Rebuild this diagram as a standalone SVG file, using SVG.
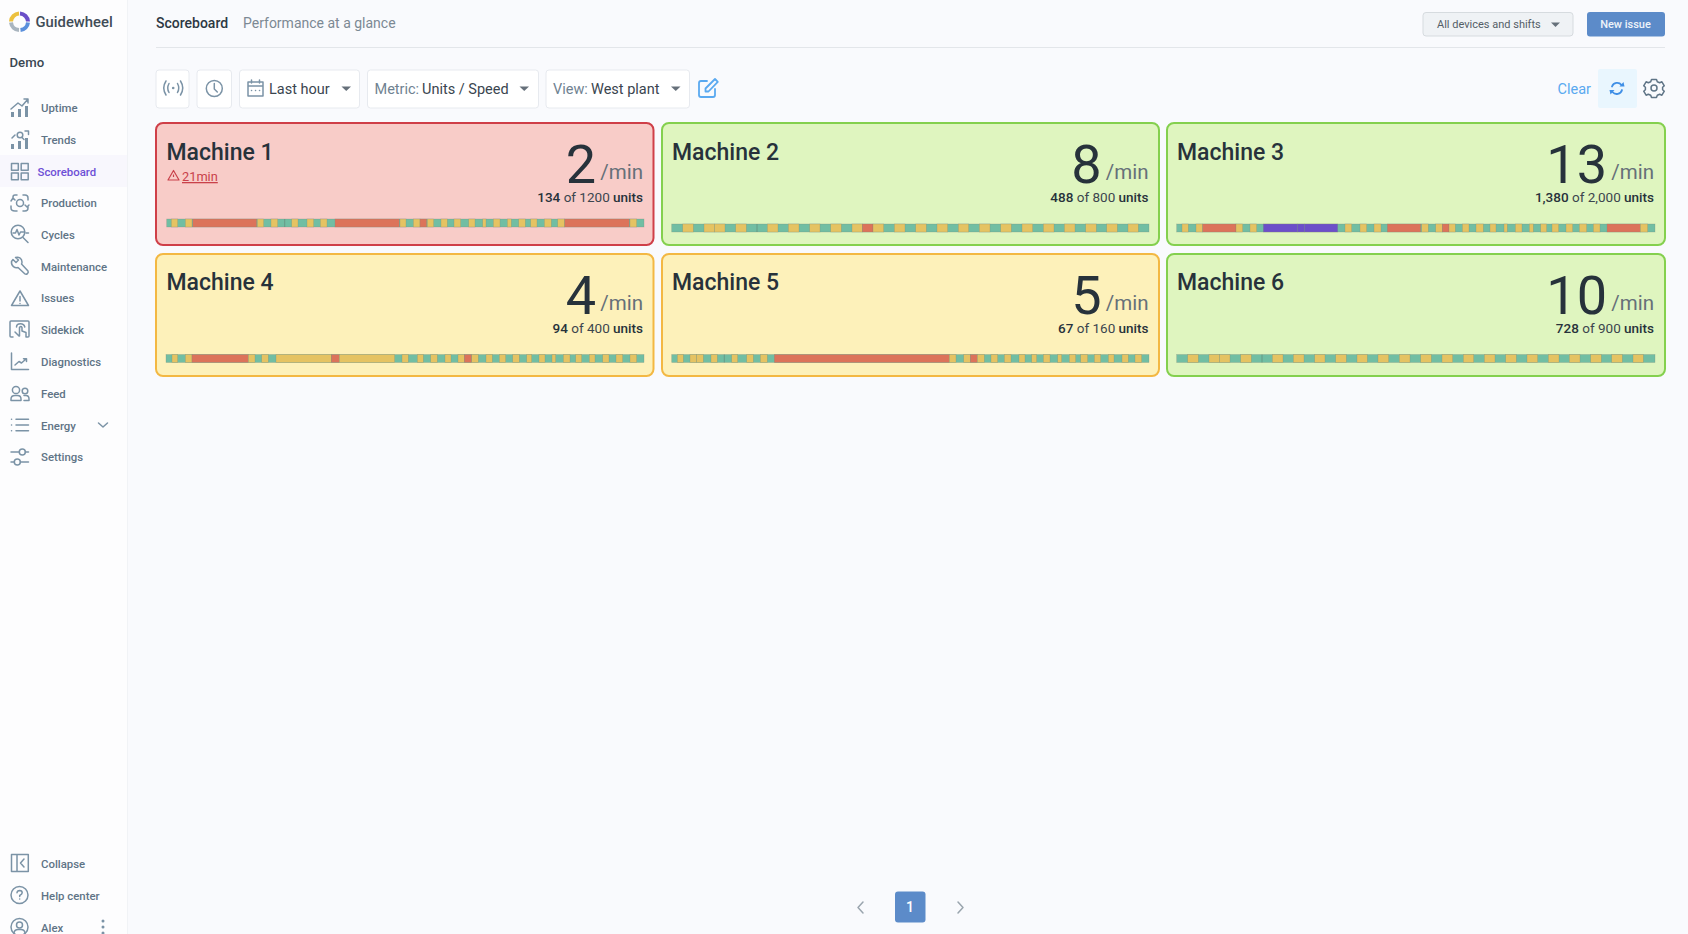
<svg xmlns="http://www.w3.org/2000/svg" width="1688" height="934" viewBox="0 0 1688 934">
<style>
text{font-family:Roboto,"Liberation Sans",sans-serif}
.nav{font-size:11.400px;font-weight:500;fill:#5f7486}
.ic{fill:none;stroke:#7b93a6;stroke-width:1.500;stroke-linecap:round;stroke-linejoin:round}
.icf{fill:#7b93a6}
.tb{fill:#fff;stroke:#e7eaef;stroke-width:1}
.tt{font-size:14.500px;fill:#3a454f}
.tl{font-size:14.500px;fill:#6f8291}
.car{fill:#66707a}
.title{font-size:23px;font-weight:500;fill:#27323b}
.num{font-size:54px;fill:#27323b;text-anchor:end}
.min{font-size:20.500px;fill:#667079;text-anchor:end}
.units{font-size:13.500px;fill:#3b454e;text-anchor:end}
.units tspan{font-weight:500;fill:#27323b}
.red{fill:#f8ccc8;stroke:#cf3f48;stroke-width:2}
.green{fill:#dff5bf;stroke:#84d04e;stroke-width:2}
.yellow{fill:#fdf1ba;stroke:#f3b843;stroke-width:2}
.bar rect{height:8px;stroke:#7f8a78;stroke-opacity:.45;stroke-width:.6}
.bar .t{fill:#71bea3}
.bar .y{fill:#e5c362}
.bar .r{fill:#dc735a}
.bar .p{fill:#6c4fc9}
.bar path{stroke:#5f7f72;stroke-width:.8;stroke-opacity:.7;fill:none}
</style>
<rect width="1688" height="934" fill="#f9fafd"/>
<g id="sidebar">
<rect width="127" height="934" fill="#fdfdfe"/>
<path d="M127.500 0V934" stroke="#f1f3f6"/>
<rect y="155" width="127" height="32" fill="#f8f7fd"/>
<g id="logo" fill="none" stroke-width="4">
<path d="M20 13.500A8.500 8.500 0 0 1 28 21.500" stroke="#6a4fc8"/>
<path d="M28 22.500A8.500 8.500 0 0 1 20.500 30" stroke="#5b90dc"/>
<path d="M19 30A8.500 8.500 0 0 1 11 22.500" stroke="#a9b5bf"/>
<path d="M11 21.500A8.500 8.500 0 0 1 19 13.500" stroke="#ecc13f"/>
</g>
<text x="35.500" y="26.700" font-size="14.800" font-weight="500" fill="#3f4c57">Guidewheel</text>
<text x="9.500" y="67" font-size="13.200" font-weight="500" fill="#3a4752">Demo</text>
<g id="nav-uptime"><path class="ic" d="M11 109L18 103L22 106L28 99M24 99H28V103"/><path class="icf" d="M11 112h3v5h-3zM18 109h3v8h-3zM25 106h3v11h-3z"/><text class="nav" x="41" y="112">Uptime</text></g>
<g id="nav-trends"><circle class="ic" cx="20" cy="135" r="2.800"/><path class="ic" d="M22 137.500L24 139.500M25 131H28.500V134.500M12 138L15 135"/><path class="icf" d="M11 144h3v5h-3zM18 141h3v8h-3zM25 138h3v11h-3z"/><text class="nav" x="41" y="144">Trends</text></g>
<g id="nav-scoreboard"><path class="ic" d="M11.500 163.500h6.800v6.800h-6.800zM21.200 173h7v6.800h-7zM21.200 163.500h7v6.800h-7zM11.500 173h6.800v6.800h-6.800z"/><text x="37.500" y="175.500" font-size="11.400" font-weight="500" fill="#6d4fd6">Scoreboard</text></g>
<g id="nav-production"><circle class="ic" cx="20" cy="203" r="3.500"/><path class="ic" d="M13 199V197Q13 195 15 195H17M23 195H25Q28 195 28 198V200M28 206V208Q28 211 25 211H23M17 211H15Q11 211 11 208V206M11 201L13 198L15 200M29 205L27 207L25 205"/><text class="nav" x="41" y="207">Production</text></g>
<g id="nav-cycles"><circle class="ic" cx="18" cy="232" r="6.800"/><path class="ic" d="M13 233H15.500L17 229.500L19 235L20.500 232H24.500M23 237.500L28 242.500M26 233H28.500"/><text class="nav" x="41" y="238.800">Cycles</text></g>
<g id="nav-maintenance"><path class="ic" d="M13 259.500L16 262.500L18.500 260L15.500 257.500C18.500 256.500 22 258 22 262C22 263 22 263.500 21.500 264L28 271C29 273 26.500 275 25 274L18 267.500C15 268.500 11 266 11.500 261.500Z"/><text class="nav" x="41" y="270.500">Maintenance</text></g>
<g id="nav-issues"><path class="ic" d="M20 291L28.500 305.500H11.500Z"/><path class="ic" d="M20 296.500V301M20 303.400V303.500"/><text class="nav" x="41" y="302.300">Issues</text></g>
<g id="nav-sidekick"><path class="ic" d="M13 337H11Q10 337 10 336V322Q10 321 11 321H28Q29 321 29 322V336Q29 337 28 337H27M19.500 336V327.500Q21 325.500 22 327.500V331L26 332.500V337M15 332L19 336M16.500 327Q16.500 323.800 20.500 323.800Q24 323.800 24.800 327"/><text class="nav" x="41" y="334.200">Sidekick</text></g>
<g id="nav-diagnostics"><path class="ic" d="M11.500 353V369.500H28.500M15 365L19 361.500L21.500 363L26 359M23.500 358.800H26.500V361.500"/><text class="nav" x="41" y="366">Diagnostics</text></g>
<g id="nav-feed"><circle class="ic" cx="16" cy="390" r="3.600"/><circle class="ic" cx="25" cy="391" r="2.800"/><path class="ic" d="M11 400.500V399Q11 395.500 15 395.500H17.500Q21 395.500 21 399V400.500ZM24 395.500H26Q29 395.500 29 399V400.500H24"/><text class="nav" x="41" y="397.500">Feed</text></g>
<g id="nav-energy"><path class="ic" d="M16 419.300H28.500M16 425H28.500M16 430.700H28.500M11.500 419.300h.1M11.500 425h.1M11.500 430.700h.1"/><path class="ic" d="M98.500 423L103 427L107.500 423"/><text class="nav" x="41" y="429.500">Energy</text></g>
<g id="nav-settings"><path class="ic" d="M11 452H19M25.500 452H28.500M11 462H14M20.500 462H28.500"/><circle class="ic" cx="22.300" cy="452" r="3"/><circle class="ic" cx="17.300" cy="462" r="3"/><text class="nav" x="41" y="461.300">Settings</text></g>
<g id="nav-collapse"><path class="ic" d="M11.500 854.500h16.800v17h-16.800zM17 854.500v17M24 859L20.500 863L24 867"/><text class="nav" x="41" y="867.500">Collapse</text></g>
<g id="nav-help"><circle class="ic" cx="19.500" cy="895" r="8.500"/><path class="ic" d="M17 892.800Q17.200 890.500 19.700 890.500Q22.200 890.600 22.200 892.800Q22.200 894.300 19.700 895.500V896.500M19.700 899V899.100"/><text class="nav" x="41" y="899.500">Help center</text></g>
<g id="nav-alex"><circle class="ic" cx="19.500" cy="927" r="8.500"/><circle class="ic" cx="19.500" cy="925" r="3"/><path class="ic" d="M14 933Q14.500 929.500 18 929.500H21Q24.500 929.500 25 933"/><text class="nav" x="41" y="931.500">Alex</text><path class="icf" d="M101.500 921a1.500 1.500 0 1 0 3 0a1.500 1.500 0 1 0-3 0M101.500 927a1.500 1.500 0 1 0 3 0a1.500 1.500 0 1 0-3 0M101.500 933a1.500 1.500 0 1 0 3 0a1.500 1.500 0 1 0-3 0"/></g>
</g>
<g id="header">
<text x="156" y="28" font-size="14" font-weight="500" fill="#2c3843">Scoreboard</text>
<text x="243" y="28" font-size="14" fill="#7c8994">Performance at a glance</text>
<path d="M156 47.500H1665" stroke="#e3e6ea" stroke-width="1.200"/>
<g id="device-filter"><rect x="1423" y="12.500" width="150" height="23.500" rx="3" fill="#eff2f5" stroke="#d6dbdf"/><text x="1437" y="28" font-size="11" fill="#545e67">All devices and shifts</text><path class="car" d="M1551 22.500h9l-4.500 4.500z"/></g>
<g id="new-issue"><rect x="1587" y="12" width="78" height="24.500" rx="3" fill="#5c8bc9"/><text x="1625.500" y="28" font-size="11" font-weight="500" fill="#eef3f9" text-anchor="middle">New issue</text></g>
</g>
<g id="toolbar">
<g id="btn-live"><rect class="tb" x="156" y="70" width="33" height="38" rx="3"/><path class="ic" stroke-width="1.400" d="M169 83.500Q166.500 88 169 92.500M177.500 83.500Q180 88 177.500 92.500M166 81Q161.500 88 166 95M180.500 81Q185 88 180.500 95"/><circle class="icf" cx="173.200" cy="88" r="1.300"/></g>
<g id="btn-clock"><rect class="tb" x="197" y="70" width="34.500" height="38" rx="3"/><circle class="ic" cx="214.300" cy="88.500" r="8"/><path class="ic" d="M214.300 83.500V89L217.300 92"/></g>
<g id="range"><rect class="tb" x="239.500" y="70" width="120" height="38" rx="3"/><path class="ic" d="M248 82h15v14h-15zM248 86h15M251.500 80v3M259.500 80v3M251.500 90.500h.1M255.500 90.500h.1M259.500 90.500h.1"/><text class="tt" x="269" y="93.500">Last hour</text><path class="car" d="M341.500 86.500h9.500l-4.750 4.500z"/></g>
<g id="metric"><rect class="tb" x="367.500" y="70" width="171" height="38" rx="3"/><text class="tl" x="374.500" y="93.500">Metric:</text><text class="tt" x="422" y="93.500">Units / Speed</text><path class="car" d="M519.500 86.500h9.500l-4.750 4.500z"/></g>
<g id="view"><rect class="tb" x="546" y="70" width="143.500" height="38" rx="3"/><text class="tl" x="553" y="93.500">View:</text><text class="tt" x="591" y="93.500">West plant</text><path class="car" d="M671 86.500h9.500l-4.750 4.500z"/></g>
<g id="edit"><path fill="none" stroke="#5aa9f0" stroke-width="1.800" stroke-linecap="round" stroke-linejoin="round" d="M707 81H701Q699 81 699 83V95Q699 97 701 97H713Q715 97 715 95V89M705.500 91.500V88.500L715 79L717.800 81.800L708.500 91.500Z"/></g>
<text x="1557.500" y="93.500" font-size="14.500" fill="#5aa9f0">Clear</text>
<g id="refresh"><rect x="1598" y="69" width="39" height="39" rx="2" fill="#e9f6fe"/><path fill="none" stroke="#3f8fe6" stroke-width="1.800" stroke-linecap="round" d="M1612 86.500A5.500 5.500 0 0 1 1621.500 85M1622 90A5.500 5.500 0 0 1 1612.500 92"/><path fill="#3f8fe6" d="M1619.500 86.500h5l-1-4.500zM1614.500 90h-5l1 4.500z"/></g>
<g id="gear"><circle class="ic" style="stroke:#5f7486" cx="1654" cy="88" r="3"/><path class="ic" style="stroke:#5f7486" d="M1651.500 79.500h5l.8 2.200 2.400 1 2.200-.9 2.400 4-1.700 1.500v2.400l1.700 1.500-2.400 4-2.200-.9-2.400 1-.8 2.200h-5l-.8-2.200-2.400-1-2.200.9-2.400-4 1.700-1.500v-2.400l-1.700-1.500 2.400-4 2.200.9 2.400-1z"/></g>
</g>
<g id="machine-1">
<rect class="red" x="156" y="123" width="497.500" height="122" rx="7"/>
<text class="title" x="166.500" y="159.500">Machine 1</text>
<path d="M173.500 170.500L179 180H168Z M173.500 174.500v2.500M173.500 178.200v.1" fill="none" stroke="#c9414a" stroke-width="1.200" stroke-linejoin="round"/>
<text x="182" y="181" font-size="12.800" fill="#c9414a" text-decoration="underline">21min</text>
<text class="num" x="596" y="183">2</text><text class="min" x="643" y="179">/min</text>
<text class="units" x="643" y="202"><tspan>134</tspan> of 1200 <tspan>units</tspan></text>
<g class="bar" transform="translate(0 219)">
<rect class="t" x="166.700" width="477.300"/>
<path d="M284.700 0v8"/>
<rect class="y" x="171.300" width="6.400"/><rect class="y" x="185.300" width="6.700"/><rect class="r" x="192.700" width="64"/><rect class="y" x="257.300" width="6.400"/><rect class="y" x="271" width="6.700"/><rect class="y" x="291.700" width="6.300"/><rect class="y" x="307" width="6.700"/><rect class="y" x="320.300" width="6.700"/><rect class="r" x="335" width="64.300"/><rect class="y" x="400" width="6"/><rect class="y" x="413.300" width="6.700"/><rect class="r" x="420" width="6.700"/><rect class="y" x="427.300" width="6.400"/><rect class="y" x="441" width="6.300"/><rect class="y" x="454" width="6.700"/><rect class="y" x="468.700" width="6.300"/><rect class="y" x="482.700" width="3.300"/><rect class="y" x="493.300" width="6.700"/><rect class="y" x="507.300" width="4"/><rect class="y" x="518.700" width="6.600"/><rect class="y" x="530.700" width="6.300"/><rect class="y" x="544.300" width="7"/><rect class="y" x="557.700" width="7"/><rect class="r" x="564.700" width="64.600"/><rect class="y" x="630" width="6.700"/>
</g>
</g>
<g id="machine-2">
<rect class="green" x="662" y="123" width="497" height="122" rx="7"/>
<text class="title" x="672" y="159.500">Machine 2</text>
<text class="num" x="1101.500" y="183">8</text><text class="min" x="1148.500" y="179">/min</text>
<text class="units" x="1148.500" y="202"><tspan>488</tspan> of 800 <tspan>units</tspan></text>
<g class="bar" transform="translate(0 224)">
<rect class="t" x="671.700" width="477.300"/>
<path d="M757 0v8"/>
<rect class="y" x="682.700" width="10.600"/><rect class="y" x="704" width="10.500"/><rect class="y" x="714.500" width="10.500"/><rect class="y" x="735.700" width="10.600"/><rect class="y" x="767.300" width="10.700"/><rect class="y" x="788.300" width="10.700"/><rect class="y" x="809.700" width="10.300"/><rect class="y" x="830.700" width="10.600"/><rect class="y" x="852" width="10.300"/><rect class="r" x="862.300" width="10.700"/><rect class="y" x="873" width="10.700"/><rect class="y" x="894.300" width="10.700"/><rect class="y" x="915.700" width="10.600"/><rect class="y" x="937" width="10.700"/><rect class="y" x="958.300" width="10.400"/><rect class="y" x="979.300" width="10.700"/><rect class="y" x="1000.700" width="10.600"/><rect class="y" x="1022" width="10.700"/><rect class="y" x="1043.300" width="10.700"/><rect class="y" x="1064.300" width="10.700"/><rect class="y" x="1085.700" width="10.600"/><rect class="y" x="1106.700" width="10.600"/><rect class="y" x="1128" width="10.300"/>
</g>
</g>
<g id="machine-3">
<rect class="green" x="1167" y="123" width="498" height="122" rx="7"/>
<text class="title" x="1177" y="159.500">Machine 3</text>
<text class="num" x="1607" y="183">13</text><text class="min" x="1654" y="179">/min</text>
<text class="units" x="1654" y="202"><tspan>1,380</tspan> of 2,000 <tspan>units</tspan></text>
<g class="bar" transform="translate(0 224)">
<rect class="t" x="1176.700" width="478.300"/>
<rect class="y" x="1182" width="6.300"/><rect class="y" x="1196" width="6.700"/><rect class="r" x="1202.700" width="33.300"/><rect class="y" x="1236" width="6.700"/><rect class="y" x="1250" width="6.700"/><rect class="p" x="1263.300" width="34"/><rect class="p" x="1297.300" width="7"/><rect class="p" x="1304.300" width="33.400"/><rect class="y" x="1345" width="6.700"/><rect class="y" x="1360" width="6.700"/><rect class="y" x="1374" width="7"/><rect class="r" x="1387.300" width="33.400"/><rect class="y" x="1421.700" width="6.600"/><rect class="y" x="1435.700" width="6.600"/><rect class="r" x="1442.300" width="6.700"/><rect class="y" x="1449" width="6.300"/><rect class="y" x="1462.300" width="6.700"/><rect class="y" x="1476" width="7.300"/><rect class="y" x="1490" width="6"/><rect class="y" x="1504" width="3.300"/><rect class="y" x="1515.300" width="6.700"/><rect class="y" x="1529.300" width="4"/><rect class="y" x="1540.700" width="6"/><rect class="y" x="1552" width="6.700"/><rect class="y" x="1566" width="6.700"/><rect class="y" x="1579.300" width="7.400"/><rect class="y" x="1593.300" width="6.700"/><rect class="r" x="1607" width="33.300"/><rect class="y" x="1640.300" width="7.400"/>
</g>
</g>
<g id="machine-4">
<rect class="yellow" x="156" y="254" width="497.500" height="122" rx="7"/>
<text class="title" x="166.500" y="290">Machine 4</text>
<text class="num" x="596" y="314">4</text><text class="min" x="643" y="310">/min</text>
<text class="units" x="643" y="333"><tspan>94</tspan> of 400 <tspan>units</tspan></text>
<g class="bar" transform="translate(0 354.500)">
<rect class="t" x="166" width="478"/>
<rect class="y" x="172" width="5.700"/><rect class="y" x="185.300" width="6.700"/><rect class="r" x="192" width="56.300"/><rect class="y" x="248.300" width="6.700"/><rect class="y" x="261.700" width="6.600"/><rect class="y" x="276" width="55.300"/><rect class="r" x="331.300" width="8"/><rect class="y" x="339.300" width="55.400"/><rect class="y" x="402" width="6.300"/><rect class="y" x="417.300" width="6"/><rect class="y" x="430.700" width="6.600"/><rect class="y" x="445" width="6"/><rect class="y" x="458" width="6.300"/><rect class="r" x="464.300" width="7.400"/><rect class="y" x="471.700" width="6.600"/><rect class="y" x="486" width="6.300"/><rect class="y" x="499.300" width="6.400"/><rect class="y" x="512.700" width="6.600"/><rect class="y" x="526.700" width="5"/><rect class="y" x="539" width="6"/><rect class="y" x="552" width="3.700"/><rect class="y" x="563.300" width="6.700"/><rect class="y" x="575.700" width="6"/><rect class="y" x="589.300" width="5.700"/><rect class="y" x="602.700" width="6.300"/><rect class="y" x="616" width="6.700"/><rect class="y" x="630" width="6.700"/>
</g>
</g>
<g id="machine-5">
<rect class="yellow" x="662" y="254" width="497" height="122" rx="7"/>
<text class="title" x="672" y="290">Machine 5</text>
<text class="num" x="1101.500" y="314">5</text><text class="min" x="1148.500" y="310">/min</text>
<text class="units" x="1148.500" y="333"><tspan>67</tspan> of 160 <tspan>units</tspan></text>
<g class="bar" transform="translate(0 354.500)">
<rect class="t" x="671.700" width="477.300"/>
<path d="M724.300 0v8"/>
<rect class="y" x="677.300" width="6"/><rect class="y" x="690" width="6.600"/><rect class="y" x="696.600" width="6.700"/><rect class="y" x="711" width="6.300"/><rect class="y" x="731.700" width="6"/><rect class="y" x="746.700" width="6.600"/><rect class="y" x="760.300" width="7"/><rect class="r" x="774.300" width="175"/><rect class="y" x="949.300" width="6.700"/><rect class="y" x="963.700" width="6.600"/><rect class="r" x="970.300" width="7"/><rect class="y" x="977.300" width="7"/><rect class="y" x="991" width="6.700"/><rect class="y" x="1004.300" width="6.700"/><rect class="y" x="1019" width="6"/><rect class="y" x="1031.700" width="5"/><rect class="y" x="1043.300" width="6.700"/><rect class="y" x="1057.700" width="4"/><rect class="y" x="1069.300" width="6.400"/><rect class="y" x="1080.700" width="7"/><rect class="y" x="1094.300" width="6.400"/><rect class="y" x="1108.300" width="5.700"/><rect class="y" x="1122" width="6.300"/><rect class="y" x="1135" width="6.700"/>
</g>
</g>
<g id="machine-6">
<rect class="green" x="1167" y="254" width="498" height="122" rx="7"/>
<text class="title" x="1177" y="290">Machine 6</text>
<text class="num" x="1607" y="314">10</text><text class="min" x="1654" y="310">/min</text>
<text class="units" x="1654" y="333"><tspan>728</tspan> of 900 <tspan>units</tspan></text>
<g class="bar" transform="translate(0 354.500)">
<rect class="t" x="1176.700" width="478.300"/>
<path d="M1262 0v8"/>
<rect class="y" x="1187.700" width="10.600"/><rect class="y" x="1209" width="10.500"/><rect class="y" x="1219.500" width="10.500"/><rect class="y" x="1240.700" width="10.600"/><rect class="y" x="1272.300" width="10.700"/><rect class="y" x="1293.300" width="10.700"/><rect class="y" x="1314.700" width="10.300"/><rect class="y" x="1335.700" width="10.600"/><rect class="y" x="1357" width="10.300"/><rect class="y" x="1378" width="10.700"/><rect class="y" x="1399.300" width="10.700"/><rect class="y" x="1420.700" width="10.600"/><rect class="y" x="1442" width="10.700"/><rect class="y" x="1463.300" width="10.400"/><rect class="y" x="1484.300" width="10.700"/><rect class="y" x="1505.700" width="10.600"/><rect class="y" x="1527" width="10.700"/><rect class="y" x="1548.300" width="10.700"/><rect class="y" x="1569.300" width="10.700"/><rect class="y" x="1590.700" width="10.600"/><rect class="y" x="1611.700" width="10.600"/><rect class="y" x="1633" width="10.300"/>
</g>
</g>
<g id="pager">
<path class="ic" d="M863 902L858 907.500L863 913" style="stroke:#9aa5ae"/>
<rect x="895" y="891.500" width="30.500" height="31" rx="3" fill="#5c8bc9"/>
<text x="910" y="912" font-size="14" font-weight="500" fill="#fff" text-anchor="middle">1</text>
<path class="ic" d="M958 902L963 907.500L958 913" style="stroke:#9aa5ae"/>
</g>
</svg>
